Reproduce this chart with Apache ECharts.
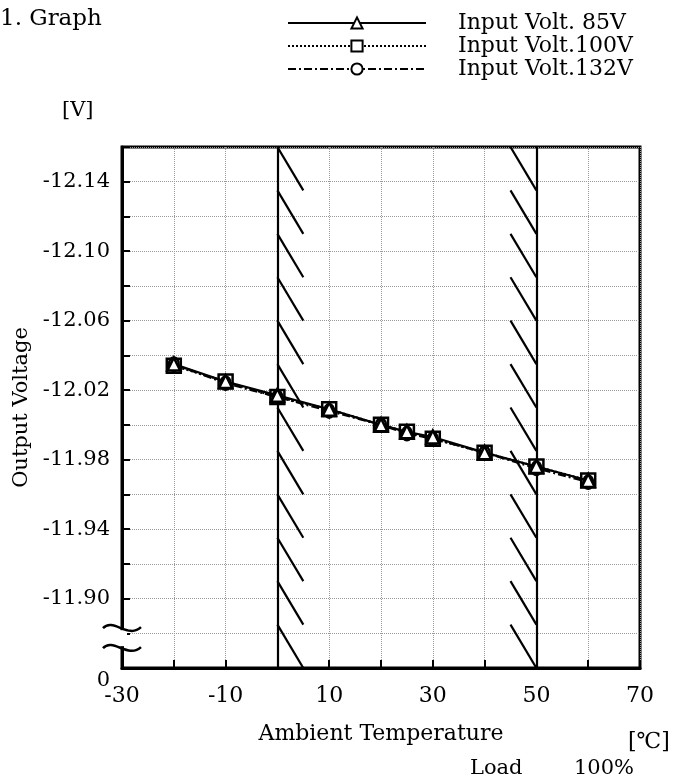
<!DOCTYPE html>
<html><head><meta charset="utf-8">
<script src="https://cdn.jsdelivr.net/npm/echarts@6/dist/echarts.min.js"></script>
<style>html,body{margin:0;padding:0;background:#fff}#c{width:673px;height:781px}</style>
</head><body><div id="c"></div>
<script>
// ---- data ----
const temps = [-20, -10, 0, 10, 20, 25, 30, 40, 50, 60];
const v85  = [-12.035, -12.025, -12.017, -12.009, -12.000, -11.996, -11.993, -11.984, -11.976, -11.968];
const v100 = [-12.034, -12.025, -12.016, -12.009, -12.000, -11.996, -11.992, -11.984, -11.976, -11.968];
const v132 = [-12.035, -12.024, -12.016, -12.008, -12.000, -11.995, -11.992, -11.984, -11.975, -11.967];
const seriesNames = ['Input Volt. 85V', 'Input Volt.100V', 'Input Volt.132V'];
const xTickLabels = ['-30', '-10', '10', '30', '50', '70'];
const yTickLabels = ['-12.14', '-12.10', '-12.06', '-12.02', '-11.98', '-11.94', '-11.90'];
const yBreakLabel = '0';
const limitTemps = [0, 50];
const hatchRanges = [[0, 5], [45, 50]];
const hatchStarts = [-12.16, -12.135, -12.11, -12.085, -12.06, -12.035, -12.01, -11.985, -11.96, -11.935, -11.91, -11.885];
const hatchStep = 0.025;
const titleText = '1. Graph';
const yUnit = '[V]';
const xUnit = '[\u2103]';
const loadLabel = 'Load';
const loadValue = '100%';

// ---- chart ----
const FONT = 'DejaVu Serif';
const chart = echarts.init(document.getElementById('c'), null, {renderer: 'canvas'});

const hatchData = [];
hatchRanges.forEach(r => hatchStarts.forEach(s => hatchData.push([r[0], s, r[1], s + hatchStep])));

function mkSeries(name, vals, symbol, size, z) {
  return {
    name, type: 'line', data: temps.map((t, i) => [t, vals[i]]), z,
    symbol, symbolSize: size, showSymbol: true,
    lineStyle: {color: '#000', width: 2.2, type: name === seriesNames[0] ? 'solid' : (name === seriesNames[1] ? 'dotted' : [8, 3, 2, 3])},
    itemStyle: {color: '#fff', borderColor: '#000', borderWidth: 2.5},
    emphasis: {disabled: true}, animation: false
  };
}

const option = {
  animation: false,
  textStyle: {fontFamily: FONT, color: '#000'},
  grid: {left: 122, right: 33, top: 147, bottom: 113, show: true, borderColor: '#000', borderWidth: 3, backgroundColor: 'transparent'},
  legend: {
    orient: 'vertical', left: 282, top: 7, itemWidth: 138, itemHeight: 14, itemGap: 1,
    data: seriesNames, selectedMode: false,
    textStyle: {fontFamily: FONT, fontSize: 22, color: '#000', lineHeight: 21, padding: [0, 0, 0, 27]}
  },
  xAxis: {
    type: 'value', min: -30, max: 70, interval: 10,
    axisLine: {show: true, onZero: false, lineStyle: {color: '#000', width: 3}},
    axisTick: {show: true, inside: true, length: 8, lineStyle: {color: '#000', width: 2}},
    splitLine: {show: true, lineStyle: {color: '#999', type: 'dotted', width: 1}},
    axisLabel: {
      margin: 17, fontSize: 22, fontFamily: FONT, color: '#000',
      formatter: v => { const s = String(Math.round(v)); return xTickLabels.includes(s) ? s : ''; }
    },
    name: 'Ambient Temperature', nameLocation: 'middle', nameGap: 55,
    nameTextStyle: {fontSize: 22, fontFamily: FONT, color: '#000'}
  },
  yAxis: {
    type: 'value', inverse: true, min: -12.16, max: -11.86, interval: 0.02,
    axisLine: {show: true, onZero: false, lineStyle: {color: '#000', width: 3}},
    axisTick: {show: true, inside: true, length: 8, lineStyle: {color: '#000', width: 2}},
    splitLine: {show: true, lineStyle: {color: '#999', type: 'dotted', width: 1}},
    axisLabel: {
      margin: 12, fontSize: 21, fontFamily: FONT, color: '#000',
      formatter: v => {
        const s = v.toFixed(2);
        if (yTickLabels.includes(s)) return s;
        if (s === '-11.86') return '{z|' + yBreakLabel + '}';
        return '';
      },
      rich: {z: {padding: [26, 0, 0, 0], fontSize: 21, fontFamily: FONT, color: '#000'}}
    },
    name: 'Output Voltage', nameLocation: 'middle', nameGap: 84, nameRotate: 90,
    nameTextStyle: {fontSize: 21, fontFamily: FONT, color: '#000'}
  },
  series: [
    mkSeries(seriesNames[1], v100, 'rect', 14, 3),
    mkSeries(seriesNames[2], v132, 'circle', [10, 13], 4),
    mkSeries(seriesNames[0], v85, 'triangle', 13, 5),
    {
      type: 'custom', name: 'hatch', z: 2, silent: true, clip: true,
      data: hatchData,
      renderItem: (params, api) => {
        const p0 = api.coord([api.value(0), api.value(1)]);
        const p1 = api.coord([api.value(2), api.value(3)]);
        return {type: 'line', shape: {x1: p0[0], y1: p0[1], x2: p1[0], y2: p1[1]}, style: {stroke: '#000', lineWidth: 2.2}};
      },
      markLine: {
        silent: true, symbol: ['none', 'none'], label: {show: false},
        lineStyle: {color: '#000', width: 2.2, type: 'solid'},
        data: limitTemps.map(t => ({xAxis: t}))
      }
    }
  ]
};
chart.setOption(option);

// decorations (axis break + free texts)
const pUp = chart.convertToPixel({gridIndex: 0}, [-30, -11.8835]);
const pLo = chart.convertToPixel({gridIndex: 0}, [-30, -11.872]);
const ax = pUp[0];
function squiggle(y) {
  return {type: 'bezierCurve', z: 100,
    shape: {x1: ax - 19, y1: y + 1, cpx1: ax - 9, cpy1: y - 10, cpx2: ax + 6, cpy2: y + 12, x2: ax + 19, y2: y},
    style: {stroke: '#000', lineWidth: 2.5, fill: null}};
}
chart.setOption({
  graphic: [
    {type: 'rect', z: 99, shape: {x: ax - 5, y: pUp[1] + 3, width: 10, height: pLo[1] - pUp[1] - 4}, style: {fill: '#fff'}},
    squiggle(pUp[1]), squiggle(pLo[1]),
    {type: 'text', left: 0, top: 8, style: {text: titleText, fontSize: 23, fontFamily: FONT, fill: '#000'}},
    {type: 'text', left: 62, top: 100, style: {text: yUnit, fontSize: 21, fontFamily: FONT, fill: '#000'}},
    {type: 'text', left: 628, top: 731, style: {text: xUnit, fontSize: 22, fontFamily: FONT, fill: '#000'}},
    {type: 'text', left: 470, top: 758, style: {text: loadLabel, fontSize: 21, fontFamily: FONT, fill: '#000'}},
    {type: 'text', left: 574, top: 758, style: {text: loadValue, fontSize: 21, fontFamily: FONT, fill: '#000'}}
  ]
});
</script></body></html>
